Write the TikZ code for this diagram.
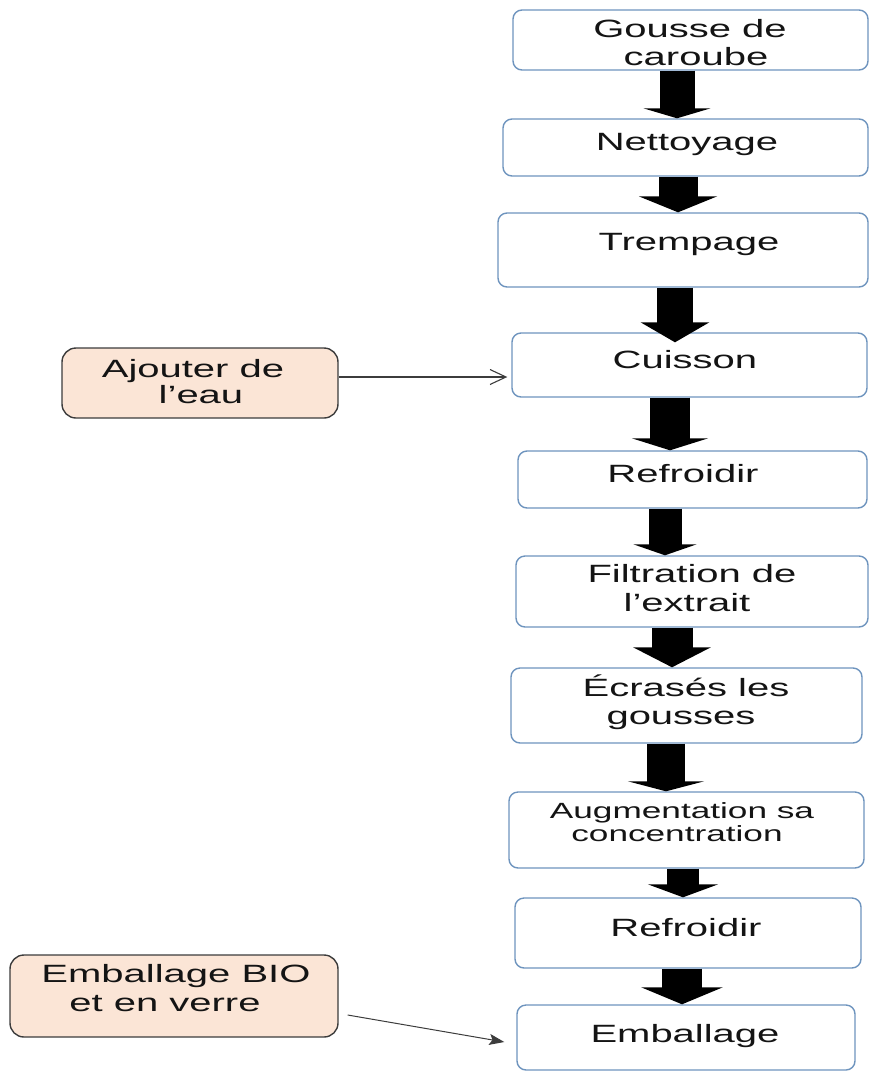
\documentclass[tikz,border=0pt]{standalone}
\usepackage{fontspec}
\setmainfont{Liberation Sans}[FakeStretch=1.6]
\usetikzlibrary{arrows.meta}

\definecolor{stepline}{RGB}{110,148,190}
\definecolor{peach}{RGB}{251,229,214}
\definecolor{inkgray}{RGB}{60,60,60}

\tikzset{
  x=1pt, y=-1pt,
  stepbox/.style={draw=stepline, line width=1.4pt, rounded corners=9pt, fill=white, inner sep=0pt},
  inbox/.style={draw=inkgray, line width=1.4pt, rounded corners=14pt, fill=peach, inner sep=0pt},
  txt/.style={anchor=base, inner sep=0pt, text=black!92, font=\fontsize{25}{30}\selectfont},
  smalltxt/.style={txt, font=\fontsize{22}{26}\selectfont},
  blk/.style n args={3}{draw=black, line width=#1pt, -{Triangle[width=#2pt, length=#3pt]}},
  feed/.style={draw=inkgray, line width=1.1pt, -{Straight Barb[length=16pt, width=15pt, line width=1.1pt]}},
  feedfill/.style={draw=inkgray, line width=1pt, -{Stealth[length=15pt, width=11pt, inset=3pt]}}
}

\begin{document}
\begin{tikzpicture}
\useasboundingbox (0,0) rectangle (870,1072);

% process steps
\node[stepbox, minimum width=355pt, minimum height=60pt] (b1) at (690.5,40) {};
\node[stepbox, minimum width=365pt, minimum height=57pt] (b2) at (685.5,147.5) {};
\node[stepbox, minimum width=370pt, minimum height=74pt] (b3) at (683,250) {};
\node[stepbox, minimum width=355pt, minimum height=64pt] (b4) at (689.5,365) {};
\node[stepbox, minimum width=349pt, minimum height=57pt] (b5) at (692.5,479.5) {};
\node[stepbox, minimum width=352pt, minimum height=71pt] (b6) at (692,591.5) {};
\node[stepbox, minimum width=351pt, minimum height=75pt] (b7) at (686.5,705.5) {};
\node[stepbox, minimum width=355pt, minimum height=76pt] (b8) at (686.5,830) {};
\node[stepbox, minimum width=346pt, minimum height=70pt] (b9) at (688,933) {};
\node[stepbox, minimum width=338pt, minimum height=65pt] (b10) at (686,1037.5) {};

% inputs
\node[inbox, minimum width=276pt, minimum height=70pt] (a1) at (200,383) {};
\node[inbox, minimum width=328pt, minimum height=82pt] (a2) at (174,996) {};

% labels
\node[txt] (t1a) at (690,37) {Gousse de};
\node[txt] (t1b) at (696,65) {caroube};
\node[txt] (t2) at (687,150) {Nettoyage};
\node[txt] (t3) at (689,250) {Trempage};
\node[txt] (t4) at (685,368) {Cuisson};
\node[txt] (t5) at (683,482) {Refroidir};
\node[txt] (t6a) at (692,582) {Filtration de};
\node[txt] (t6b) at (687,611) {l’extrait};
\node[txt] (t7a) at (686,696) {Écrasés les};
\node[txt] (t7b) at (681,724) {gousses};
\node[smalltxt] (t8a) at (682,818) {Augmentation sa};
\node[smalltxt] (t8b) at (677,841) {concentration};
\node[txt] (t9) at (686,936) {Refroidir};
\node[txt] (t10) at (685,1042) {Emballage};
\node[txt] (s1a) at (193,377) {Ajouter de};
\node[txt] (s1b) at (201,403) {l’eau};
\node[txt] (s2a) at (176,982) {Emballage BIO};
\node[txt] (s2b) at (165,1011) {et en verre};

% flow arrows
\draw[blk={35}{67}{10}] (b1.south -| 677,0) -- (b2.north -| 677,0);
\draw[blk={39}{78}{16}] (b2.south -| 678,0) -- (b3.north -| 678,0);
\draw[blk={36}{68}{20}] (b3.south -| 675,0) -- ([yshift=-10pt]b4.north -| 675,0);
\draw[blk={40}{76}{12}] (b4.south -| 670,0) -- (b5.north -| 670,0);
\draw[blk={33}{63}{11}] (b5.south -| 665,0) -- (b6.north -| 665,0);
\draw[blk={41}{77}{20}] (b6.south -| 672,0) -- (b7.north -| 672,0);
\draw[blk={38}{76}{10}] (b7.south -| 666,0) -- (b8.north -| 666,0);
\draw[blk={32}{70}{13}] (b8.south -| 683,0) -- (b9.north -| 683,0);
\draw[blk={40}{81}{17}] (b9.south -| 682,0) -- (b10.north -| 682,0);

% side inputs
\draw[feed] (a1.east |- 0,377) -- ([xshift=-4pt]b4.west |- 0,377);
\draw[feedfill] ([xshift=9pt, yshift=-19pt]a2.east) -- ([xshift=-12pt, yshift=-4.5pt]b10.west);
\end{tikzpicture}
\end{document}
